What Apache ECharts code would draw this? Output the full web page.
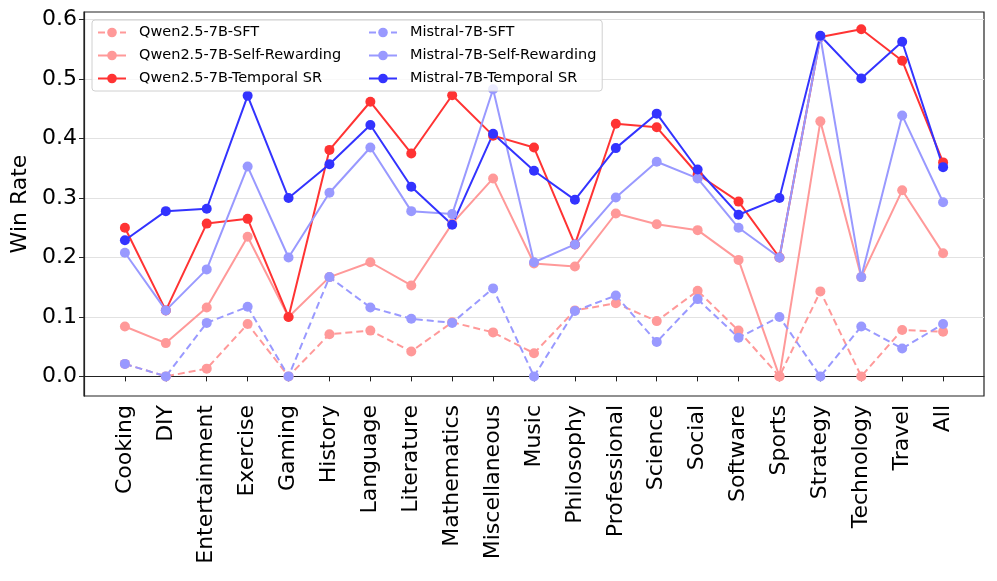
<!DOCTYPE html>
<html>
<head>
<meta charset="utf-8">
<script src="https://cdn.jsdelivr.net/npm/echarts@6/dist/echarts.min.js"></script>
<style>html,body{margin:0;padding:0;background:#fff}#c{width:997px;height:581px}</style>
</head>
<body>
<div id="c"></div>
<script>
const categories = ['Cooking','DIY','Entertainment','Exercise','Gaming','History','Language','Literature','Mathematics','Miscellaneous','Music','Philosophy','Professional','Science','Social','Software','Sports','Strategy','Technology','Travel','All'];
const yTicks = [0, 0.1, 0.2, 0.3, 0.4, 0.5, 0.6];

const qwenSFT      = [0.021, 0.000, 0.013, 0.088, 0.000, 0.071, 0.077, 0.042, 0.091, 0.074, 0.039, 0.111, 0.123, 0.093, 0.144, 0.077, 0.000, 0.143, 0.000, 0.078, 0.075];
const qwenSR       = [0.084, 0.056, 0.116, 0.235, 0.100, 0.167, 0.192, 0.153, 0.257, 0.333, 0.190, 0.185, 0.274, 0.256, 0.246, 0.196, 0.000, 0.429, 0.167, 0.313, 0.207];
const qwenTSR      = [0.250, 0.111, 0.257, 0.265, 0.100, 0.381, 0.462, 0.375, 0.473, 0.405, 0.385, 0.222, 0.425, 0.419, 0.340, 0.294, 0.200, 0.571, 0.584, 0.531, 0.360];
const mistralSFT   = [0.021, 0.000, 0.090, 0.117, 0.000, 0.167, 0.116, 0.097, 0.090, 0.148, 0.000, 0.110, 0.136, 0.058, 0.130, 0.065, 0.100, 0.000, 0.084, 0.047, 0.088];
const mistralSR    = [0.208, 0.111, 0.180, 0.353, 0.200, 0.309, 0.385, 0.278, 0.273, 0.483, 0.192, 0.222, 0.301, 0.361, 0.333, 0.250, 0.200, 0.571, 0.167, 0.439, 0.293];
const mistralTSR   = [0.229, 0.278, 0.282, 0.472, 0.300, 0.357, 0.423, 0.319, 0.255, 0.408, 0.346, 0.297, 0.384, 0.442, 0.348, 0.272, 0.300, 0.573, 0.501, 0.563, 0.352];

const cats = [''].concat(categories, ['']);
const pad = arr => [null].concat(arr, [null]);
const inner = i => i > 0 && i < cats.length - 1;

function mk(name, data, color, dashed) {
  return {
    name, type: 'line', data: pad(data),
    symbol: 'circle', symbolSize: 10,
    itemStyle: { color },
    lineStyle: { color, width: 2, type: dashed ? [7, 4] : 'solid' },
    emphasis: { disabled: true },
    animation: false
  };
}

const chart = echarts.init(document.getElementById('c'), null, { renderer: 'canvas' });
const legendCommon = {
  orient: 'vertical', itemWidth: 28, itemHeight: 12, itemGap: 8,
  textStyle: { fontFamily: 'DejaVu Sans', fontSize: 14.5, color: '#000', padding: [0, 0, 0, 8] }
};
chart.setOption({
  backgroundColor: '#fff',
  grid: { left: 84, right: 13, top: 12, bottom: 185, show: true, borderColor: '#222', borderWidth: 1.2, backgroundColor: 'transparent' },
  legend: [
    Object.assign({}, legendCommon, {
      left: 92, top: 20, padding: [5, 261, 5, 5],
      borderColor: '#d0d0d0', borderWidth: 1, borderRadius: 3, backgroundColor: 'rgba(255,255,255,0.8)',
      data: ['Qwen2.5-7B-SFT', 'Qwen2.5-7B-Self-Rewarding', 'Qwen2.5-7B-Temporal SR']
    }),
    Object.assign({}, legendCommon, {
      left: 368, top: 25, padding: 0,
      data: ['Mistral-7B-SFT', 'Mistral-7B-Self-Rewarding', 'Mistral-7B-Temporal SR']
    })
  ],
  xAxis: {
    type: 'category', data: cats, boundaryGap: false,
    axisLine: { show: true, lineStyle: { color: '#222', width: 1.2 } },
    axisTick: { show: true, interval: (i) => inner(i), length: 5, lineStyle: { color: '#222' } },
    axisLabel: { interval: (i) => inner(i), rotate: 90, fontFamily: 'DejaVu Sans', fontSize: 22, color: '#000', margin: 9 },
    splitLine: { show: false }
  },
  yAxis: {
    type: 'value', min: -0.033, max: 0.613,
    name: 'Win Rate', nameLocation: 'middle', nameGap: 52,
    nameTextStyle: { fontFamily: 'DejaVu Sans', fontSize: 22, color: '#000' },
    axisLine: { show: true, lineStyle: { color: '#222', width: 1.2 } },
    axisTick: { show: true, customValues: yTicks, length: 5, lineStyle: { color: '#222' } },
    axisLabel: { customValues: yTicks, formatter: v => v.toFixed(1), fontFamily: 'DejaVu Sans', fontSize: 22, color: '#000', margin: 7 },
    splitLine: { show: true, lineStyle: { color: '#e2e2e2', width: 1 } }
  },
  series: [
    mk('Qwen2.5-7B-SFT', qwenSFT, '#ff9999', true),
    mk('Qwen2.5-7B-Self-Rewarding', qwenSR, '#ff9999', false),
    mk('Qwen2.5-7B-Temporal SR', qwenTSR, '#ff3333', false),
    mk('Mistral-7B-SFT', mistralSFT, '#9999ff', true),
    mk('Mistral-7B-Self-Rewarding', mistralSR, '#9999ff', false),
    mk('Mistral-7B-Temporal SR', mistralTSR, '#3333ff', false)
  ]
});
</script>
</body>
</html>
